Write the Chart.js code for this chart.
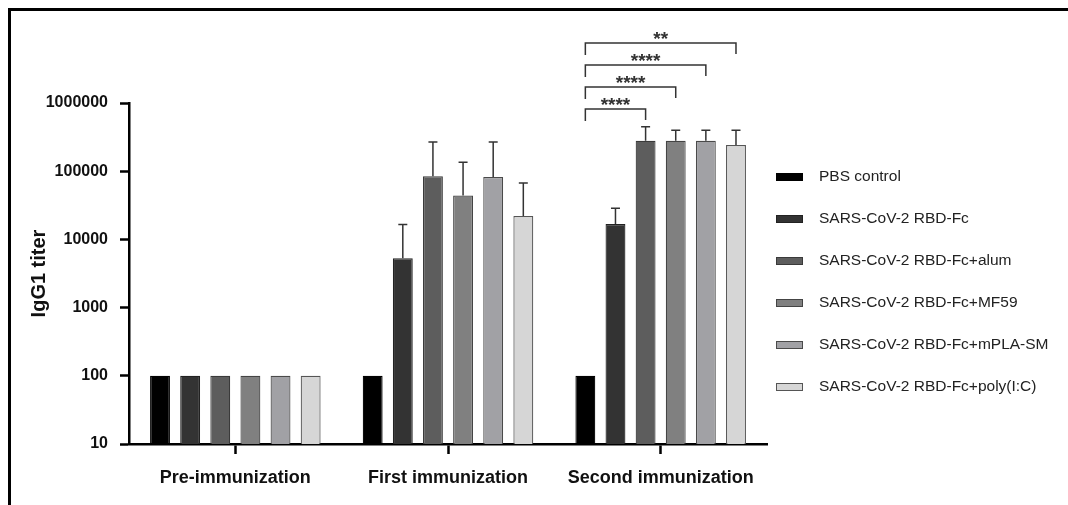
<!DOCTYPE html>
<html>
<head>
<meta charset="utf-8">
<script src="https://cdn.jsdelivr.net/npm/chart.js@4"></script>
<style>
  html, body { margin: 0; padding: 0; background: #fff; }
  #wrap { position: relative; width: 1068px; height: 505px; }
  #frame { position: absolute; left: 8px; top: 8px; right: 0; bottom: 0;
           border-top: 3px solid #000; border-left: 3px solid #000; pointer-events: none; }
</style>
</head>
<body>
<div id="wrap">
  <canvas id="titerChart" width="1068" height="505"></canvas>
  <div id="frame"></div>
</div>
<script>
// groups on the x axis
const categories = ['Pre-immunization', 'First immunization', 'Second immunization'];
const seriesNames = [
    'PBS control',
    'SARS-CoV-2 RBD-Fc',
    'SARS-CoV-2 RBD-Fc+alum',
    'SARS-CoV-2 RBD-Fc+MF59',
    'SARS-CoV-2 RBD-Fc+mPLA-SM',
    'SARS-CoV-2 RBD-Fc+poly(I:C)'
];

// mean titers
const pbsControl = [100, 100, 100];
const rbdFc      = [100, 5300, 16800];
const rbdAlum    = [100, 84000, 280000];
const rbdMF59    = [100, 44000, 280000];
const rbdMPLA    = [100, 82000, 280000];
const rbdPolyIC  = [100, 22000, 242000];

// top of the error bars (null = none)
const pbsControlErr = [null, null, null];
const rbdFcErr      = [null, 16600, 28600];
const rbdAlumErr    = [null, 268000, 450000];
const rbdMF59Err    = [null, 135000, 400000];
const rbdMPLAErr    = [null, 268000, 400000];
const rbdPolyICErr  = [null, 67000, 400000];

const yTicks = [10, 100, 1000, 10000, 100000, 1000000];

// significance vs PBS control in the second immunization
const sigGroup = 2;
const sigPairs = [
    { from: 0, to: 2, label: '****' },
    { from: 0, to: 3, label: '****' },
    { from: 0, to: 4, label: '****' },
    { from: 0, to: 5, label: '**' }
];

const values = [pbsControl, rbdFc, rbdAlum, rbdMF59, rbdMPLA, rbdPolyIC];
const errTops = [pbsControlErr, rbdFcErr, rbdAlumErr, rbdMF59Err, rbdMPLAErr, rbdPolyICErr];
const fills = ['#000000', '#333333', '#5d5d5d', '#808080', '#a1a1a5', '#d6d6d6'];
const edges = ['#000000', '#222222', '#3a3a3a', '#444444', '#4a4a4a', '#555555'];

const FONT = '"Liberation Sans", Arial, Helvetica, sans-serif';

const errorBars = {
    id: 'errorBars',
    afterDatasetsDraw(chart) {
        const ctx = chart.ctx;
        const y = chart.scales.y;
        ctx.save();
        ctx.strokeStyle = '#333';
        ctx.lineWidth = 1.5;
        chart.data.datasets.forEach((ds, i) => {
            const meta = chart.getDatasetMeta(i);
            meta.data.forEach((bar, j) => {
                const top = errTops[i][j];
                if (top == null) return;
                const yt = y.getPixelForValue(top);
                ctx.beginPath();
                ctx.moveTo(bar.x, bar.y);
                ctx.lineTo(bar.x, yt);
                ctx.moveTo(bar.x - 4.5, yt);
                ctx.lineTo(bar.x + 4.5, yt);
                ctx.stroke();
            });
        });
        ctx.restore();
    }
};

const sigBrackets = {
    id: 'sigBrackets',
    afterDraw(chart) {
        const ctx = chart.ctx;
        const top = chart.chartArea.top;
        ctx.save();
        ctx.strokeStyle = '#333';
        ctx.lineWidth = 1.5;
        ctx.fillStyle = '#333';
        ctx.font = 'bold 19px ' + FONT;
        ctx.textAlign = 'center';
        ctx.textBaseline = 'alphabetic';
        sigPairs.forEach((p, k) => {
            const x1 = chart.getDatasetMeta(p.from).data[sigGroup].x;
            const x2 = chart.getDatasetMeta(p.to).data[sigGroup].x;
            const yl = top + 6 - k * 22;
            ctx.beginPath();
            ctx.moveTo(x1, yl + 12);
            ctx.lineTo(x1, yl);
            ctx.lineTo(x2, yl);
            ctx.lineTo(x2, yl + 11);
            ctx.stroke();
            ctx.fillText(p.label, (x1 + x2) / 2, yl + 2);
        });
        ctx.restore();
    }
};

const sideLegend = {
    id: 'sideLegend',
    afterDraw(chart) {
        const ctx = chart.ctx;
        ctx.save();
        ctx.font = '15.5px ' + FONT;
        ctx.textBaseline = 'middle';
        ctx.textAlign = 'left';
        chart.data.datasets.forEach((ds, i) => {
            const cy = 177 + i * 42;
            ctx.fillStyle = ds.backgroundColor;
            ctx.fillRect(776, cy - 4, 27, 8);
            ctx.strokeStyle = ds.borderColor;
            ctx.lineWidth = 1;
            ctx.strokeRect(776.5, cy - 3.5, 26, 7);
            ctx.fillStyle = '#222';
            ctx.fillText(ds.label, 819, cy);
        });
        ctx.restore();
    }
};

new Chart(document.getElementById('titerChart').getContext('2d'), {
    type: 'bar',
    data: {
        labels: categories,
        datasets: seriesNames.map((name, i) => ({
            label: name,
            data: values[i],
            backgroundColor: fills[i],
            borderColor: edges[i],
            borderWidth: 1.2,
            categoryPercentage: 0.85,
            barPercentage: 0.66
        }))
    },
    options: {
        responsive: false,
        animation: false,
        layout: { padding: { top: 103, right: 301, bottom: 0, left: 0 } },
        plugins: {
            legend: { display: false },
            tooltip: { enabled: false }
        },
        scales: {
            x: {
                grid: { display: true, drawOnChartArea: false, offset: false,
                        tickLength: 10, tickWidth: 2.5, tickColor: '#000' },
                border: { display: true, color: '#000', width: 2.5 },
                ticks: { padding: 13, color: '#111',
                         font: { family: FONT, size: 18, weight: 'bold' } },
                afterFit: s => { s.height = 61; }
            },
            y: {
                type: 'logarithmic',
                min: 10,
                max: 1000000,
                afterBuildTicks: s => { s.ticks = yTicks.map(v => ({ value: v })); },
                grid: { display: true, drawOnChartArea: false,
                        tickLength: 9, tickWidth: 2.5, tickColor: '#000' },
                border: { display: true, color: '#000', width: 2.5 },
                ticks: { padding: 12, color: '#111',
                         font: { family: FONT, size: 16, weight: 'bold' },
                         callback: v => String(v) },
                title: { display: true, text: 'IgG1 titer', color: '#111',
                         padding: { top: 27, bottom: 0 },
                         font: { family: FONT, size: 20, weight: 'bold' } },
                afterFit: s => { s.width = 129; }
            }
        }
    },
    plugins: [errorBars, sigBrackets, sideLegend]
});
</script>
</body>
</html>
